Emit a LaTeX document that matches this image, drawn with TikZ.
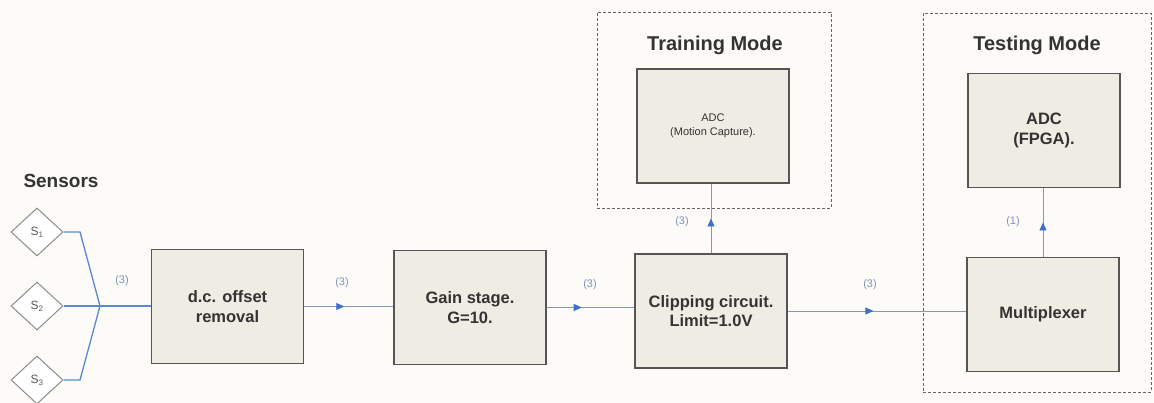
\documentclass[tikz,border=0pt]{standalone}
\usepackage{fontspec}
\setmainfont{Liberation Sans}
\usetikzlibrary{shapes.geometric,arrows.meta,decorations.markings}
\definecolor{bg}{HTML}{FDFBF8}
\definecolor{boxfill}{HTML}{EFECE3}
\definecolor{boxline}{HTML}{555555}
\definecolor{wireblue}{HTML}{5A88D2}
\definecolor{linkline}{HTML}{8797BA}
\definecolor{lblblue}{HTML}{7F93BE}
\definecolor{arrowblue}{HTML}{3F6FCC}
\tikzset{
  blockbox/.style={draw=boxline, line width=1.2pt, fill=boxfill, minimum width=152pt, minimum height=114pt, align=center, font=\fontsize{16.5}{19.5}\selectfont\bfseries, text=black!80},
  sensorbox/.style={diamond, draw=black!45, line width=1pt, fill=white, minimum width=52pt, minimum height=48pt, inner sep=0pt, font=\fontsize{12}{14}\selectfont, text=black!65},
  titletext/.style={font=\fontsize{20}{23}\selectfont\bfseries, text=black!80},
  numlabel/.style={font=\fontsize{11}{13}\selectfont, text=lblblue},
  modebox/.style={draw=black!60, line width=0.9pt, dash pattern=on 3pt off 2pt},
  sensorwire/.style={draw=wireblue, line width=1.3pt},
  linkwire/.style={draw=linkline, line width=0.9pt},
  midarrow/.style={postaction={decorate}, decoration={markings, mark=at position #1 with {\arrow[arrowblue]{Triangle[length=8pt,width=7pt]}}}}
}
\begin{document}
\begin{tikzpicture}[x=1pt,y=1pt]
\useasboundingbox (0,0) rectangle (1154,403);
\fill[bg] (0,0) rectangle (1154,403);

% mode groups
\node[modebox, minimum width=234pt, minimum height=196pt, inner sep=0pt] (trainbox) at (714,293) {};
\node[modebox, minimum width=228pt, minimum height=379pt, inner sep=0pt] (testbox) at (1037,200.5) {};
\node[titletext] (traintitle) at (715,358) {Training Mode};
\node[titletext] (testtitle) at (1037,358) {Testing Mode};

% sensors
\node[titletext, font=\fontsize{19}{22}\selectfont\bfseries] (senstitle) at (61,222) {Sensors};
\node[sensorbox] (s1) at (37,171) {S\textsubscript{1}};
\node[sensorbox] (s2) at (37,97) {S\textsubscript{2}};
\node[sensorbox] (s3) at (37,23) {S\textsubscript{3}};

% blocks
\node[blockbox] (dc) at (227.5,96.5) {d.c. offset\\removal};
\node[blockbox] (gain) at (470,95.5) {Gain stage.\\G=10.};
\node[blockbox] (clip) at (711,92) {Clipping circuit.\\Limit=1.0V};
\node[blockbox] (mux) at (1043,88.5) {Multiplexer};
\node[blockbox, font=\fontsize{11}{14}\selectfont] (adct) at (713,277) {ADC\\(Motion Capture).};
\node[blockbox] (adcf) at (1044,272.5) {ADC\\(FPGA).};

% sensor wiring
\coordinate (junc) at (100,97);
\coordinate (knee1) at (80,171);
\coordinate (knee3) at (80,23);
\draw[sensorwire] (s1.east) -- (knee1) -- (junc);
\draw[sensorwire] (s3.east) -- (knee3) -- (junc);
\draw[sensorwire] (s2.east) -- (s2.east -| dc.west);
\node[numlabel] (l0) at (122,122) {(3)};

% links
\draw[linkwire, midarrow=0.45] (dc.east) -- (dc.east -| gain.west);
\node[numlabel] (l1) at (342,120) {(3)};
\draw[linkwire, midarrow=0.4] (gain.east) -- (gain.east -| clip.west);
\node[numlabel] (l2) at (590,118) {(3)};
\draw[linkwire, midarrow=0.48] (clip.east) -- (clip.east -| mux.west);
\node[numlabel] (l3) at (870,118) {(3)};
\draw[linkwire, midarrow=0.5] (clip.north) -- (clip.north |- adct.south);
\node[numlabel] (l4) at (682,181) {(3)};
\draw[linkwire, midarrow=0.5] (mux.north) -- (mux.north |- adcf.south);
\node[numlabel] (l5) at (1013,181) {(1)};
\end{tikzpicture}
\end{document}
